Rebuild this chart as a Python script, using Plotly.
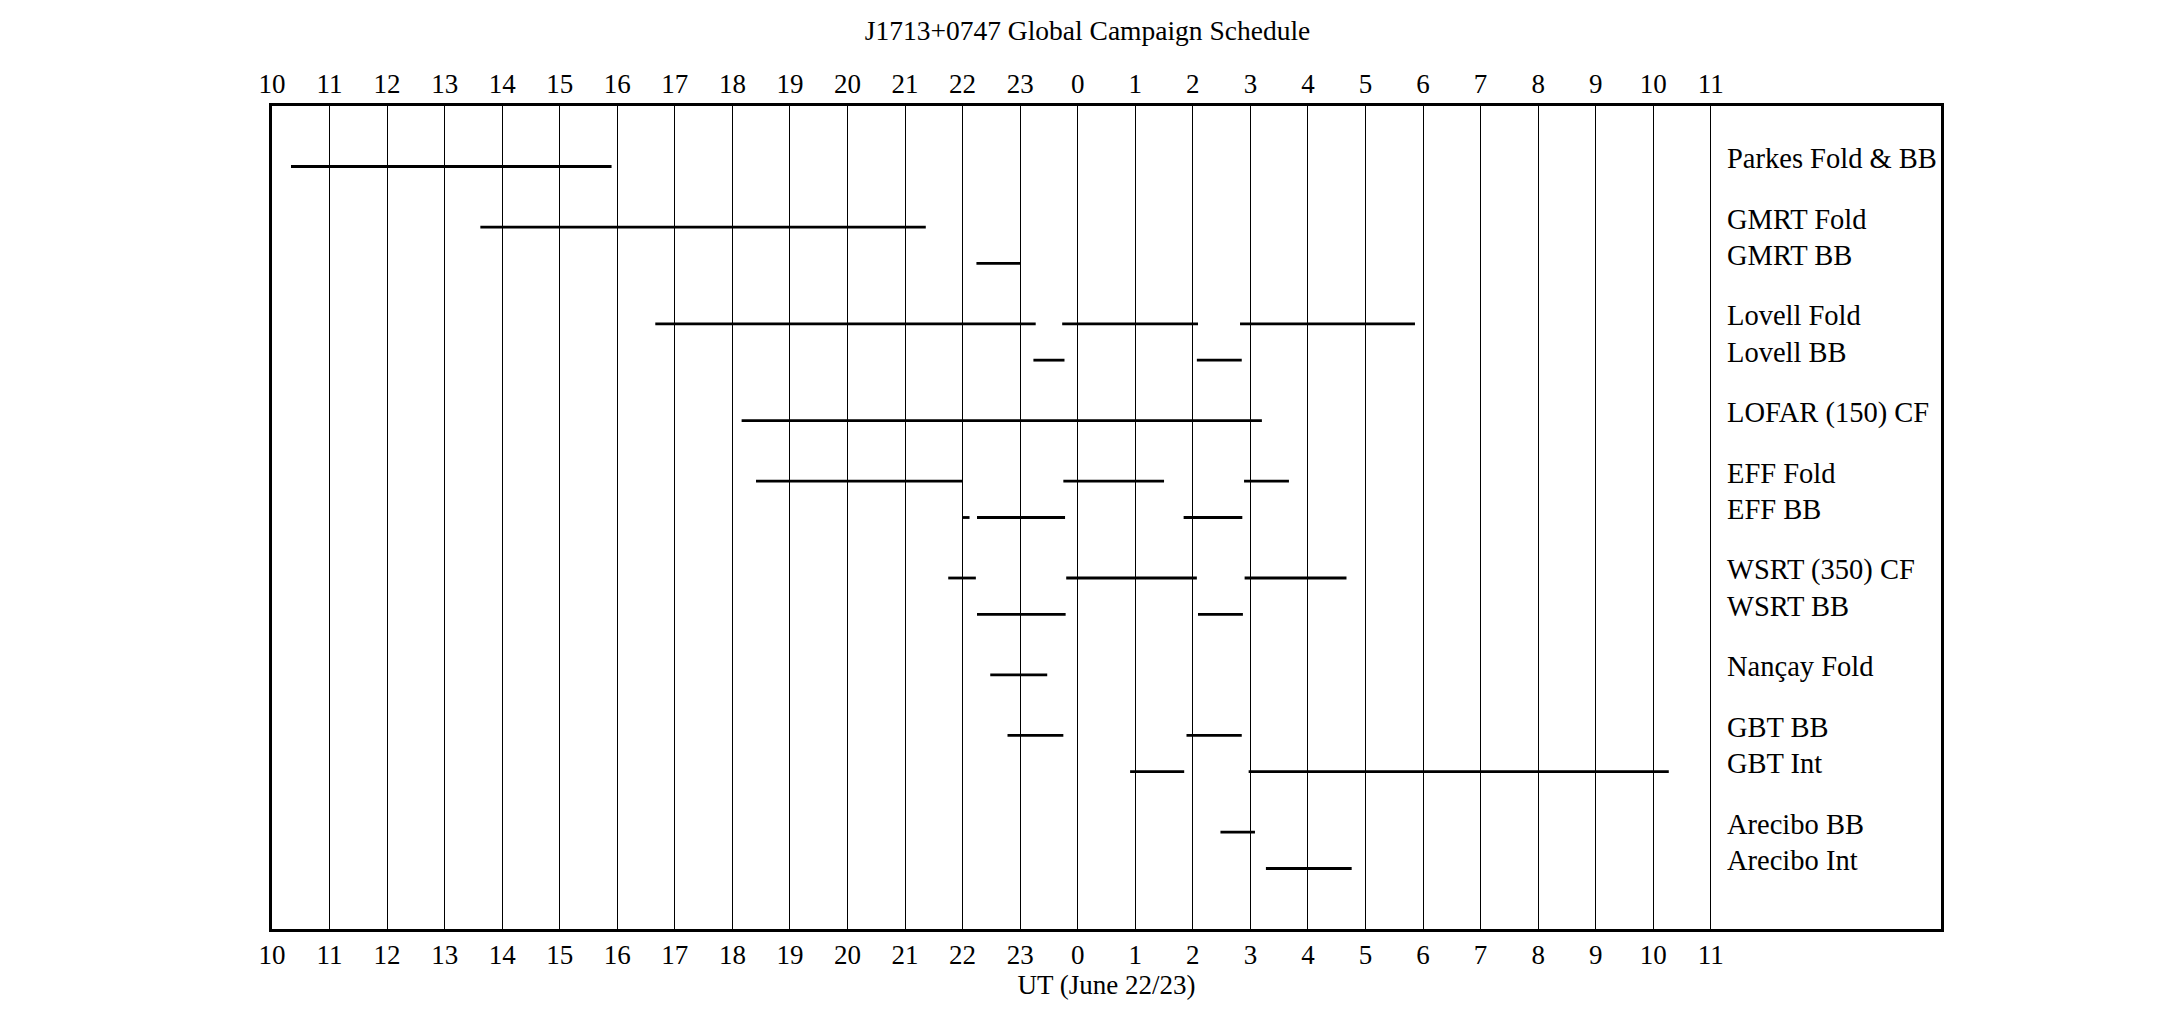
import plotly.graph_objects as go

# ---- data ----
stations = ["Parkes Fold & BB", "GMRT Fold", "GMRT BB", "Lovell Fold", "Lovell BB",
            "LOFAR (150) CF", "EFF Fold", "EFF BB", "WSRT (350) CF", "WSRT BB",
            "Nançay Fold", "GBT BB", "GBT Int", "Arecibo BB", "Arecibo Int"]
row_level = [0, 1, 1.6, 2.6, 3.2, 4.2, 5.2, 5.8, 6.8, 7.4, 8.4, 9.4, 10.0, 11.0, 11.6]

# observation windows in hours UT (hours >= 24 are on June 23)
seg_start = [
    [10.33],
    [13.62],
    [22.24],
    [16.66, 23.73, 26.82],
    [23.23, 26.07],
    [18.16],
    [18.41, 23.75, 26.89],
    [22.0, 22.25, 25.84],
    [21.75, 23.80, 26.90],
    [22.25, 26.09],
    [22.48],
    [22.78, 25.89],
    [24.91, 26.97],
    [26.48],
    [27.27],
]
seg_end = [
    [15.90],
    [21.36],
    [23.00],
    [23.27, 26.09, 29.86],
    [23.77, 26.85],
    [27.20],
    [22.00, 25.50, 27.67],
    [22.12, 23.78, 26.86],
    [22.23, 26.07, 28.67],
    [23.79, 26.87],
    [23.47],
    [23.75, 26.85],
    [25.85, 34.27],
    [27.08],
    [28.76],
]

tick_vals = list(range(10, 36))
tick_text = ["10", "11", "12", "13", "14", "15", "16", "17", "18", "19", "20", "21",
             "22", "23", "0", "1", "2", "3", "4", "5", "6", "7", "8", "9", "10", "11"]

title_text = "J1713+0747 Global Campaign Schedule"
x_title = "UT (June 22/23)"
label_x = 35.25
x_range = [10, 39]
y_range = [12.6, -1]

# ---- figure ----
FONT = "Liberation Serif, Times New Roman, serif"
FS = 27

xs, ys = [], []
for lvl, s_list, e_list in zip(row_level, seg_start, seg_end):
    for s, e in zip(s_list, e_list):
        xs += [s, e, None]
        ys += [lvl, lvl, None]

fig = go.Figure()
fig.add_trace(go.Scatter(x=xs, y=ys, mode="lines",
                         line=dict(color="black", width=2.8),
                         hoverinfo="skip", showlegend=False))
# invisible trace to activate top axis
fig.add_trace(go.Scatter(x=x_range, y=[row_level[0], row_level[0]], xaxis="x2",
                         mode="lines", line=dict(width=0), opacity=0,
                         hoverinfo="skip", showlegend=False))

for name, lvl in zip(stations, row_level):
    fig.add_annotation(x=label_x, y=lvl, text=name, showarrow=False,
                       xanchor="left", yanchor="middle", yshift=8,
                       font=dict(family=FONT, size=28.5, color="black"))

axis_common = dict(
    range=x_range, tickmode="array", tickvals=tick_vals, ticktext=tick_text,
    tickfont=dict(family=FONT, size=FS, color="black"),
    showgrid=True, gridcolor="black", gridwidth=1.3,
    zeroline=False, ticks="", fixedrange=True,
)

fig.update_layout(
    width=2159, height=1036,
    margin=dict(l=264, r=226, t=98, b=115),
    paper_bgcolor="white", plot_bgcolor="white",
    font=dict(family=FONT, size=FS, color="black"),
    title=dict(text=title_text, x=0.5, xref="container", xanchor="center",
               y=1 - 22 / 1036, yref="container", yanchor="middle",
               font=dict(family=FONT, size=27.5, color="black")),
    xaxis=dict(**axis_common, side="bottom",
               showline=True, linecolor="black", linewidth=2.5, mirror=True,
               title=dict(text=x_title, standoff=1,
                          font=dict(family=FONT, size=FS, color="black"))),
    xaxis2=dict(**axis_common, side="top", overlaying="x", anchor="y",
                showline=False, ticklabelstandoff=7),
    yaxis=dict(range=y_range, showgrid=False, showticklabels=False, ticks="",
               zeroline=False, showline=True, linecolor="black", linewidth=2.5,
               mirror=True, fixedrange=True),
)

fig.write_html("out.html")
